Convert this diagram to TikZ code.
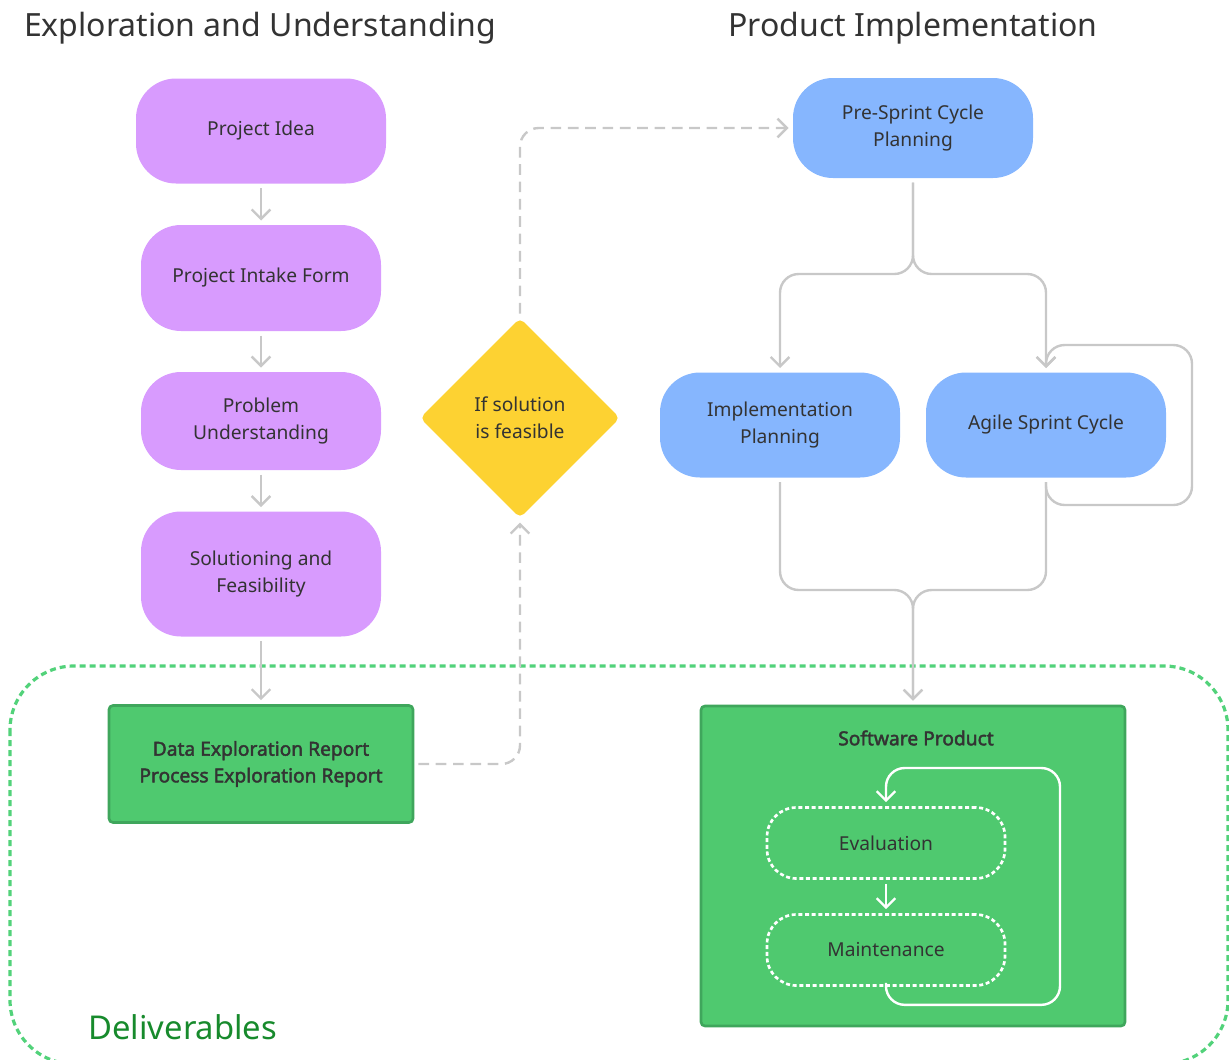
\documentclass[tikz,border=0pt]{standalone}
\usepackage{fontspec}
\setmainfont{Noto Sans}
\newfontfamily\heavyfont{Noto Sans}[FakeBold=2.2]
\usetikzlibrary{shapes.geometric,arrows.meta}

\definecolor{ideapurple}{HTML}{D89BFE}
\definecolor{planblue}{HTML}{86B6FE}
\definecolor{gateyellow}{HTML}{FDD232}
\definecolor{delivgreen}{HTML}{4FC96F}
\definecolor{delivedge}{HTML}{3FA65C}
\definecolor{borderdots}{HTML}{52D27A}
\definecolor{delivtext}{HTML}{178A2C}
\definecolor{conngray}{HTML}{C8C8C8}
\definecolor{inktext}{HTML}{333333}

\tikzset{every picture/.style={line width=0.75pt}}
\tikzset{
  pill/.style={rounded corners=30pt, align=center, inner sep=0pt, text=inktext,
    minimum width=180pt, font=\fontsize{14.4}{20}\selectfont},
  explore/.style={pill, fill=ideapurple},
  implement/.style={pill, fill=planblue},
  gate/.style={diamond, fill=gateyellow, rounded corners=4pt, inner sep=0pt, aspect=1,
    minimum width=150pt, minimum height=150pt, align=center, text=inktext,
    font=\fontsize{14.4}{20}\selectfont},
  deliv/.style={rectangle, fill=delivgreen, draw=delivedge, line width=2pt, rounded corners=3pt,
    align=center, inner sep=0pt, text=inktext, font=\heavyfont\fontsize{14.4}{20}\selectfont},
  subphase/.style={rounded corners=22pt, draw=white, line width=2pt, dash pattern=on 3pt off 2pt,
    minimum width=178.5pt, minimum height=53.25pt, inner sep=0pt, text=inktext,
    font=\fontsize{14.4}{20}\selectfont},
  heading/.style={text=inktext, font=\fontsize{24}{28}\selectfont, inner sep=0pt},
  conn/.style={draw=conngray, line width=1.8pt, rounded corners=14pt,
    -{Straight Barb[length=7pt,width=14pt,line width=1.8pt]}, shorten >=3pt, shorten <=3pt},
  dashconn/.style={conn, dash pattern=on 8pt off 5pt},
  loopconn/.style={conn, draw=white},
}

\begin{document}
\begin{tikzpicture}[x=0.75pt,y=-0.75pt]
  \path[use as bounding box] (0,0) rectangle (1229,1060);
  \clip (0,0) rectangle (1229,1060);

  % deliverables frame
  \draw[borderdots, line width=2.4pt, dash pattern=on 4.5pt off 3pt, rounded corners=48pt]
    (10,666) rectangle (1228,1064);
  \node[anchor=west, text=delivtext, inner sep=0pt, font=\fontsize{24.6}{30}\selectfont]
    (delivlabel) at (88,1027) {Deliverables};

  % headings
  \node[heading] (exploretitle) at (260,28) {Exploration and Understanding};
  \node[heading] (producttitle) at (913,28) {Product Implementation};

  % exploration column
  \node[explore, minimum width=187.5pt, minimum height=78.75pt] (idea) at (261,131) {Project Idea};
  \node[explore, minimum height=79.5pt] (intake) at (261,278) {Project Intake Form};
  \node[explore, minimum height=73.5pt] (problem) at (261,421) {Problem\\Understanding};
  \node[explore, minimum height=93.75pt] (solution) at (261,574) {Solutioning and\\Feasibility};
  \node[deliv, minimum width=228pt, minimum height=87.75pt] (reports) at (261,764)
    {Data Exploration Report\\Process Exploration Report};

  % feasibility gate
  \node[gate] (feasible) at (520,418) {If solution\\is feasible};

  % implementation column
  \node[implement, minimum height=75pt] (presprint) at (913,128) {Pre-Sprint Cycle\\Planning};
  \node[implement, minimum height=78.75pt] (implplan) at (780,425) {Implementation\\Planning};
  \node[implement, minimum height=78.75pt] (agile) at (1046,425) {Agile Sprint Cycle};

  % software product
  \node[deliv, minimum width=318pt, minimum height=240pt] (software) at (913,866) {};
  \node[text=inktext, inner sep=0pt, font=\heavyfont\fontsize{14.4}{20}\selectfont]
    (softwaretitle) at (916,738) {Software Product};
  \node[subphase] (evaluation) at (886,843) {Evaluation};
  \node[subphase] (maintenance) at (886,950) {Maintenance};

  \coordinate (split) at (913,274);
  \coordinate (merge) at (913,590);
  \coordinate (agileloop) at (1192,345);
  \coordinate (softloop) at (1060,768);

  % connectors
  \draw[conn] (idea) -- (intake);
  \draw[conn] (intake) -- (problem);
  \draw[conn] (problem) -- (solution);
  \draw[conn] (solution) -- (reports);
  \draw[dashconn] (reports.east) -| (feasible.south);
  \draw[dashconn] (feasible.north) |- (presprint.west);
  \draw[conn] (presprint.south) -- (split) -| (implplan.north);
  \draw[conn] (presprint.south) -- (split) -| (agile.north);
  \draw[conn] (agile.south) -- ++(0,27) -| (agileloop) -| (agile.north);
  \draw[conn] (implplan.south) |- (merge) -- (software.north);
  \draw[conn] (agile.south) |- (merge) -- (software.north);
  \draw[loopconn] (evaluation) -- (maintenance);
  \draw[loopconn] (maintenance.south) -- ++(0,18) -| (softloop) -| (evaluation.north);
\end{tikzpicture}
\end{document}
